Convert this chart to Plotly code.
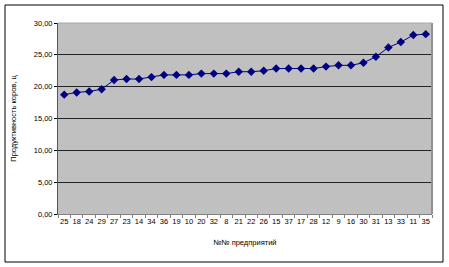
import plotly.graph_objects as go

categories = ["25", "18", "24", "29", "27", "23", "14", "34", "36", "19", "10", "20", "32", "8", "21",
              "22", "26", "15", "37", "17", "28", "12", "9", "16", "30", "31", "13", "33", "11", "35"]
values = [18.75, 19.1, 19.25, 19.6, 21.05, 21.2, 21.2, 21.5, 21.85, 21.85, 21.85, 22.05, 22.05, 22.05, 22.35,
          22.35, 22.5, 22.85, 22.85, 22.85, 22.85, 23.15, 23.35, 23.35, 23.75, 24.7, 26.15, 27.0, 28.1, 28.25]
y_ticks = [0, 5, 10, 15, 20, 25, 30]
y_labels = ["0,00", "5,00", "10,00", "15,00", "20,00", "25,00", "30,00"]

W, H = 449, 267
L, R, T, B = 58, 17, 23, 53
pw, ph = W - L - R, H - T - B

def px(x):
    return (x - L) / pw

def py(y):
    return (H - B - y) / ph

fig = go.Figure()
fig.add_trace(go.Scatter(
    x=categories, y=values, mode="lines+markers",
    line=dict(color="#000080", width=1),
    marker=dict(symbol="diamond", size=6.5, color="#000080"),
    cliponaxis=False,
))

font = dict(family="Arial, Liberation Sans, sans-serif", size=7.5, color="black")
fig.update_layout(
    width=W, height=H,
    margin=dict(l=L, r=R, t=T, b=B),
    paper_bgcolor="white", plot_bgcolor="#C0C0C0",
    showlegend=False,
    font=font,
    xaxis=dict(type="category", range=[-0.5, len(categories) - 0.5], tickson="boundaries",
               ticks="outside", ticklen=3,
               tickcolor="#808080", showgrid=False, showline=True, linecolor="#808080",
               linewidth=1, tickfont=dict(size=7.5), tickangle=0,
               title=dict(text="№№ предприятий", font=dict(size=7.5), standoff=14)),
    yaxis=dict(range=[0, 30], tickvals=y_ticks, ticktext=y_labels, ticks="outside", ticklen=3,
               tickcolor="black", showgrid=True, gridcolor="#222222", gridwidth=1,
               showline=True, linecolor="#555555", linewidth=1, zeroline=False,
               tickfont=dict(size=7.5),
               title=dict(text="Продуктивность коров, ц", font=dict(size=7.5), standoff=16)),
    shapes=[
        dict(type="rect", xref="paper", yref="paper", x0=px(5), x1=px(443), y0=py(262), y1=py(5),
             line=dict(color="black", width=1), layer="below"),
        dict(type="line", xref="paper", yref="paper", x0=1, x1=1, y0=0, y1=1,
             line=dict(color="#909090", width=2)),
        dict(type="line", xref="paper", yref="paper", x0=0, x1=1, y0=1, y1=1,
             line=dict(color="#A8A8A8", width=1)),
    ],
)

fig.write_html("out.html")
